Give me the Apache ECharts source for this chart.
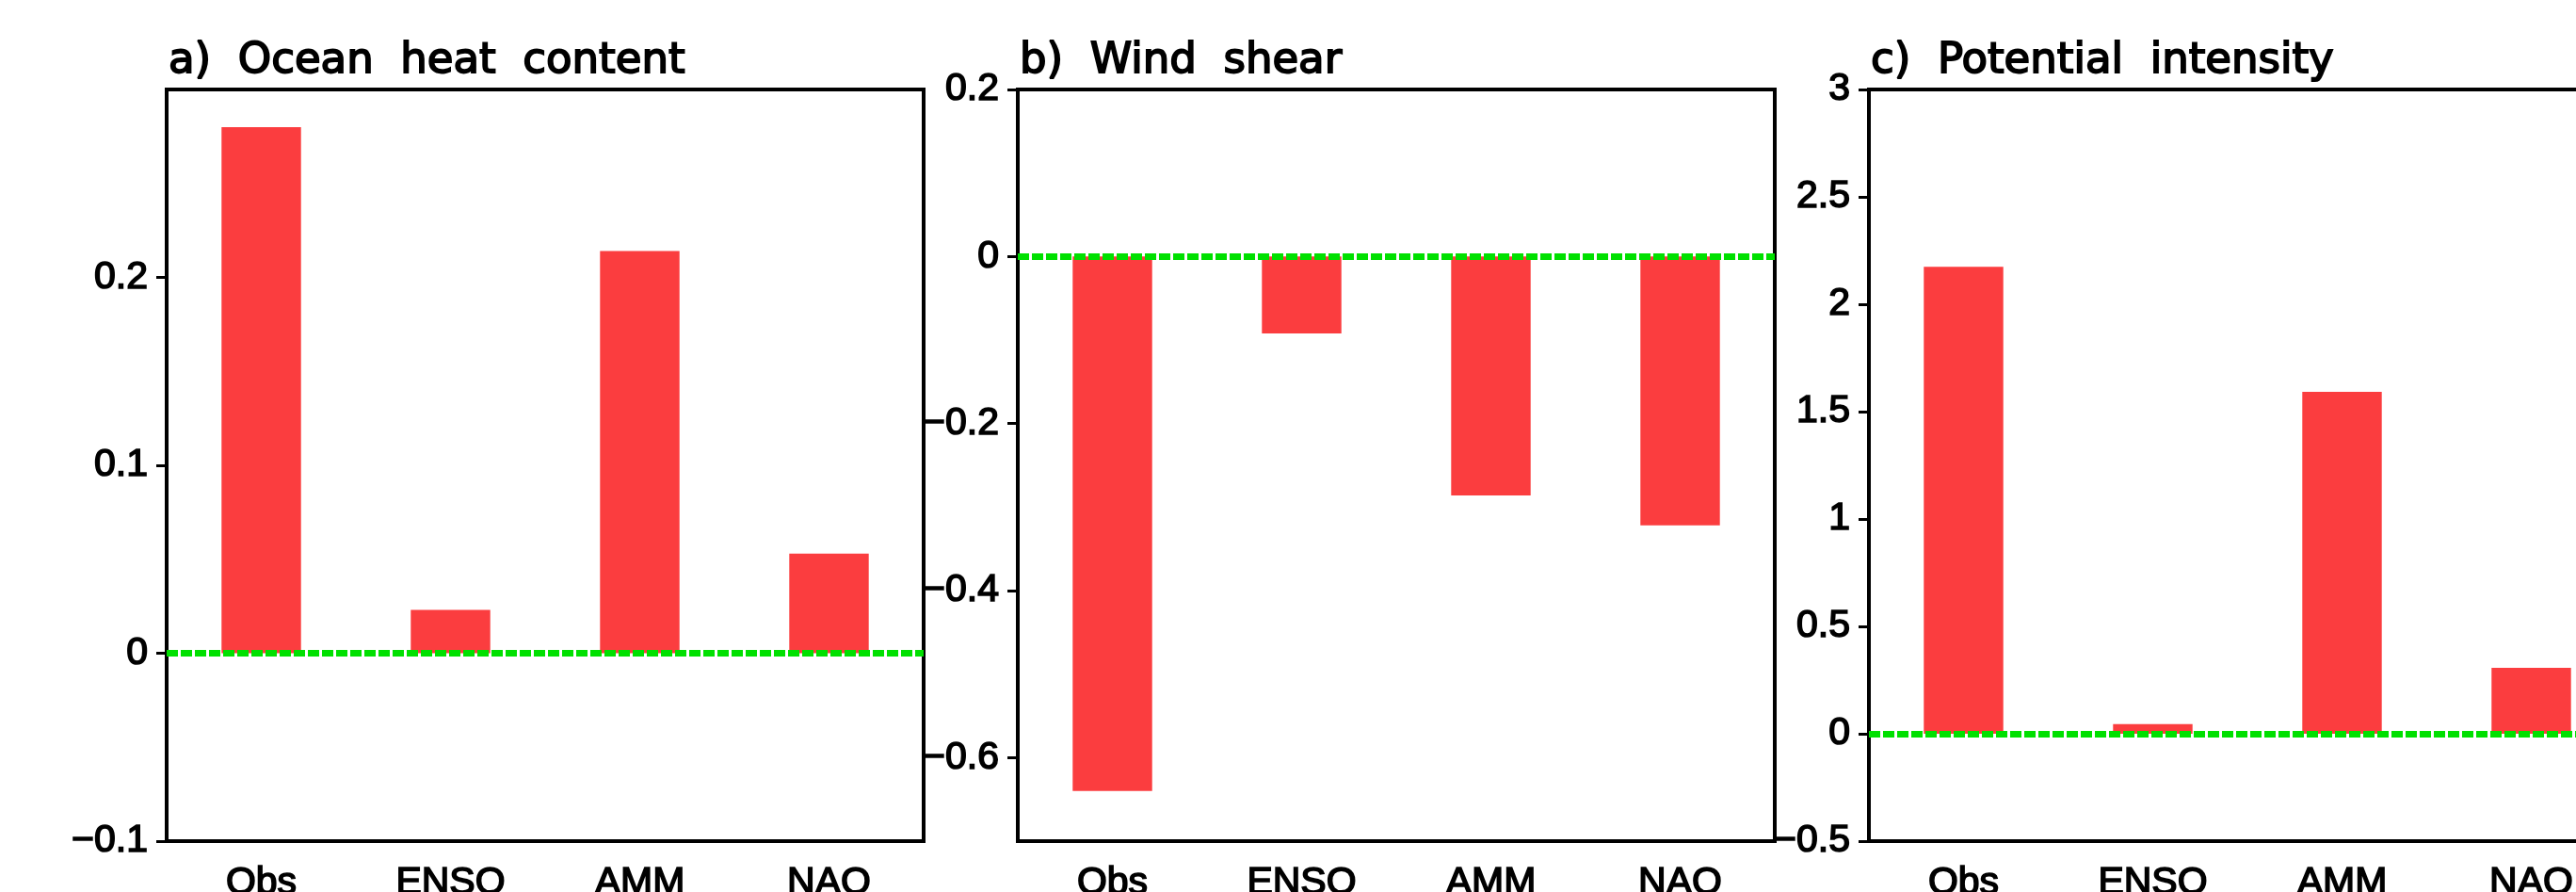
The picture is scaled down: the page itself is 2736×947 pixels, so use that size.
<!DOCTYPE html>
<html>
<head>
<meta charset="utf-8">
<script src="https://cdn.jsdelivr.net/npm/echarts@6/dist/echarts.min.js"></script>
<style>
  html, body { margin: 0; padding: 0; background: #fff; }
  #chart { width: 2736px; height: 947px; }
</style>
</head>
<body>
<div id="chart"></div>
<script type="text/javascript">
// categories and values
var cats = ['Obs', 'ENSO', 'AMM', 'NAO'];
var heatContent = [0.280, 0.023, 0.214, 0.053];
var windShear = [-0.640, -0.092, -0.286, -0.322];
var potIntensity = [2.174, 0.045, 1.592, 0.307];

var titles = ['a)  Ocean  heat  content', 'b)  Wind  shear', 'c)  Potential  intensity'];
var ticksA = [-0.1, 0, 0.1, 0.2];
var ticksB = [-0.6, -0.4, -0.2, 0, 0.2];

var labelFont = "'Liberation Sans', Arial, sans-serif";
var red = '#fb3d3f';
var green = '#00e000';
var lefts = [177, 1081, 1985];

function fmt(v) {
    return String(Math.round(v * 100) / 100).replace('-', '\u2212');
}

function yAxis(idx, min, max, opts) {
    var ax = {
        type: 'value',
        gridIndex: idx,
        min: min,
        max: max,
        splitLine: { show: false },
        axisLine: { show: false },
        axisTick: { show: true, length: 11, lineStyle: { color: '#000', width: 3 } },
        axisLabel: {
            margin: 20,
            color: '#000',
            fontFamily: labelFont,
            fontSize: 41,
            textBorderColor: '#000',
            textBorderWidth: 1.6,
            formatter: fmt
        }
    };
    if (opts.interval) ax.interval = opts.interval;
    if (opts.ticks) {
        ax.axisTick.customValues = opts.ticks;
        ax.axisLabel.customValues = opts.ticks;
    }
    return ax;
}

function xAxis(idx) {
    return {
        type: 'category',
        gridIndex: idx,
        data: cats,
        axisLine: { show: false, onZero: false },
        axisTick: { show: false },
        axisLabel: {
            margin: 24,
            color: '#000',
            fontFamily: labelFont,
            fontSize: 41,
            textBorderColor: '#000',
            textBorderWidth: 1.6
        }
    };
}

function bars(idx, data) {
    return {
        type: 'bar',
        xAxisIndex: idx,
        yAxisIndex: idx,
        data: data,
        barWidth: '42%',
        itemStyle: { color: red },
        markLine: {
            silent: true,
            symbol: ['none', 'none'],
            label: { show: false },
            lineStyle: { color: green, type: [12, 3], width: 7 },
            data: [{ yAxis: 0 }]
        }
    };
}

var myChart = echarts.init(document.getElementById('chart'));
var option = {
    animation: false,
    backgroundColor: '#fff',
    title: titles.map(function (t, i) {
        return {
            text: t,
            left: lefts[i] + 2,
            top: 43,
            padding: 0,
            textStyle: {
                fontFamily: 'DejaVu Sans',
                fontSize: 45,
                fontWeight: 'normal',
                color: '#000',
                textBorderColor: '#000',
                textBorderWidth: 1.8
            }
        };
    }),
    grid: lefts.map(function (l) {
        return {
            left: l, top: 95, width: 804, height: 798,
            outerBoundsMode: 'none',
            containLabel: false,
            show: true, borderColor: '#000', borderWidth: 4, backgroundColor: 'transparent'
        };
    }),
    xAxis: [xAxis(0), xAxis(1), xAxis(2)],
    yAxis: [
        yAxis(0, -0.1, 0.3, { ticks: ticksA }),
        yAxis(1, -0.7, 0.2, { ticks: ticksB }),
        yAxis(2, -0.5, 3, { interval: 0.5 })
    ],
    series: [bars(0, heatContent), bars(1, windShear), bars(2, potIntensity)]
};
myChart.setOption(option);
</script>
</body>
</html>
